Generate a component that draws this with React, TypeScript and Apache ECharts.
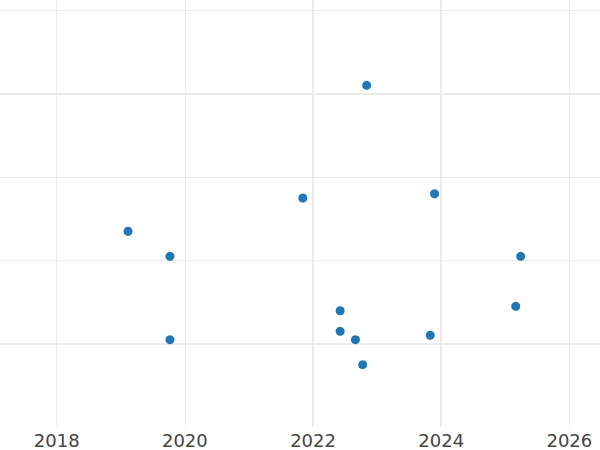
import React, { useEffect, useRef } from "react";
import * as echarts from "echarts";

const years = [2019.113, 2019.767, 2019.767, 2021.841, 2022.837, 2023.896, 2022.423, 2022.423, 2022.661, 2022.775, 2023.829, 2025.163, 2025.24];
const values = [2.347, 2.047, 1.047, 2.746, 4.097, 2.797, 1.394, 1.147, 1.047, 0.747, 1.1, 1.447, 2.047];

const xTicks = [2018, 2020, 2022, 2024, 2026];
const xThick = [2022, 2024];
const yTicks = [1, 2, 3, 4, 5];
const yThick = [1, 4];

export default function App() {
  const ref = useRef<HTMLDivElement>(null);
  useEffect(() => {
    if (!ref.current) return;
    const chart = echarts.init(ref.current, null, { renderer: "svg" });
    const gridColor = "#ebebeb";
    const lines: any[] = [];
    xTicks.forEach((t) => {
      lines.push({ xAxis: t, lineStyle: { color: gridColor, width: xThick.includes(t) ? 2 : 1, type: "solid" } });
    });
    yTicks.forEach((t) => {
      lines.push({ yAxis: t, lineStyle: { color: gridColor, width: yThick.includes(t) ? 2 : 1, type: "solid" } });
    });
    chart.setOption({
      animation: false,
      backgroundColor: "#ffffff",
      grid: { left: 0, right: 0, top: 0, bottom: 23, containLabel: false },
      xAxis: {
        type: "value",
        min: 2017.115,
        max: 2026.478,
        splitNumber: 5,
        axisLine: { show: false },
        axisTick: { show: false },
        splitLine: { show: false },
        axisLabel: {
          showMinLabel: false,
          showMaxLabel: false,
          fontFamily: "DejaVu Sans",
          fontSize: 18,
          color: "#444444",
          margin: 4,
          formatter: (v: number) => String(Math.round(v)),
        },
      },
      yAxis: {
        type: "value",
        min: 0,
        max: 5.12,
        axisLine: { show: false },
        axisTick: { show: false },
        axisLabel: { show: false },
        splitLine: { show: false },
      },
      series: [
        {
          type: "scatter",
          data: years.map((y, i) => [y, values[i]]),
          symbolSize: 9,
          itemStyle: { color: "#1f77b4", opacity: 1 },
          z: 3,
          markLine: {
            silent: true,
            symbol: "none",
            label: { show: false },
            z: 1,
            data: lines,
          },
        },
      ],
    });
    return () => chart.dispose();
  }, []);
  return <div ref={ref} style={{ position: "fixed", left: 0, top: 0, width: 600, height: 450 }} />;
}
